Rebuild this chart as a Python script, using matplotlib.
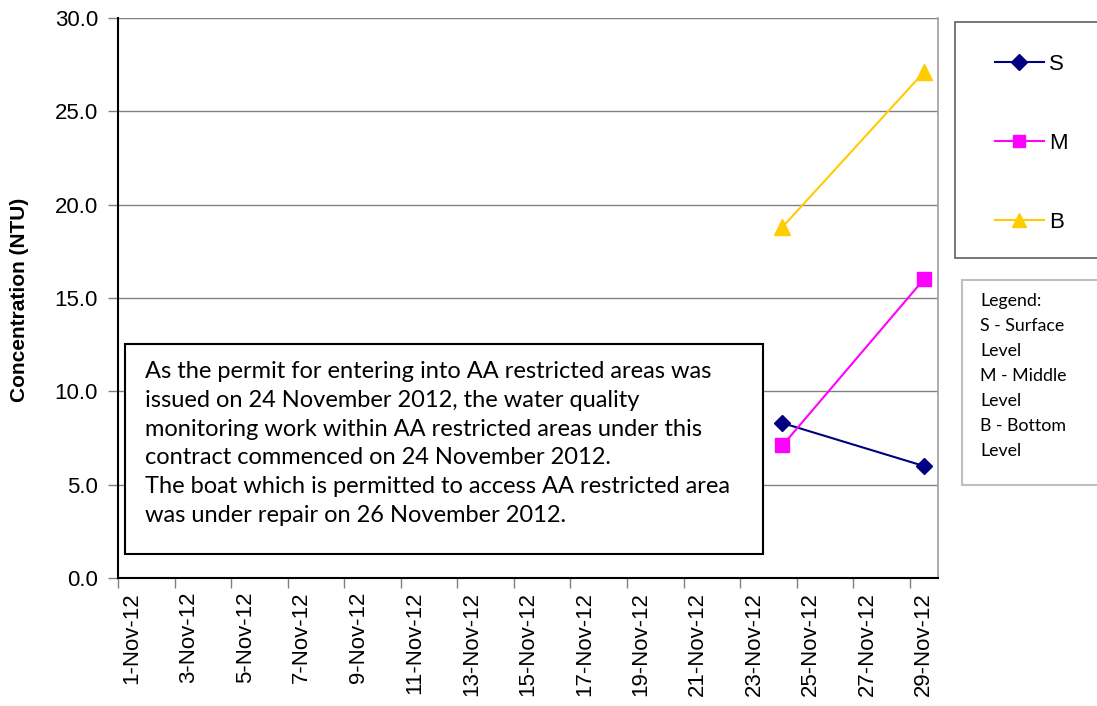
import matplotlib
matplotlib.use("Agg")
import matplotlib.pyplot as plt
from matplotlib.lines import Line2D
from matplotlib.patches import Rectangle
import pandas as pd
import numpy as np

# ---------------- data ----------------
dates = ["24-Nov-12", "29-Nov-12"]
surface = [8.3, 6.0]
middle = [7.1, 16.0]
bottom = [18.8, 27.1]
series_names = ["S", "M", "B"]
tick_days = list(range(1, 30, 2))
tick_labels = [f"{d}-Nov-12" for d in tick_days]
y_ticks = [0, 5, 10, 15, 20, 25, 30]
note_lines = [
    "As the permit for entering into AA restricted areas was",
    "issued on 24 November 2012, the water quality",
    "monitoring work within AA restricted areas under this",
    "contract commenced on 24 November 2012.",
    "The boat which is permitted to access AA restricted area",
    "was under repair on 26 November 2012.",
]
legend_note = ["Legend:", "S - Surface", "Level", "M - Middle", "Level", "B - Bottom", "Level"]

x_days = pd.to_datetime(dates, format="%d-%b-%y").day.to_numpy()

W, H = 1097, 706
fig = plt.figure(figsize=(W / 100, H / 100), dpi=100)


def fx(x):
    return x / W


def fy(y):
    return 1 - y / H


ax_l, ax_r, ax_t, ax_b = 118, 938, 18, 578
ax = fig.add_axes([fx(ax_l), fy(ax_b), fx(ax_r - ax_l), (ax_b - ax_t) / H])

arial = "Liberation Sans"
calibri = "Lato"

# lines
ax.plot(x_days, surface, color="#000080", lw=1.5, marker="D", ms=8,
        markerfacecolor="#000080", markeredgecolor="#000080", zorder=5)
ax.plot(x_days, middle, color="#FF00FF", lw=1.5, marker="s", ms=10,
        markerfacecolor="#FF00FF", markeredgecolor="#FF00FF", zorder=5)
ax.plot(x_days, bottom, color="#FFCC00", lw=1.5, marker="^", ms=11,
        markerfacecolor="#FFCC00", markeredgecolor="#FFCC00", zorder=5)

ax.set_xlim(0.5, 29.5)
ax.set_ylim(0, 30)
ax.set_yticks(y_ticks)
ax.set_yticklabels([f"{v:.1f}" for v in y_ticks], fontsize=16, family=arial)
ax.yaxis.grid(True, color="#808080", lw=1)
ax.set_axisbelow(True)

ax.set_xticks(tick_days)
ax.set_xticklabels(tick_labels, rotation=90, fontsize=16, family=arial)
ax.set_xticks(np.arange(0.5, 29.0, 2.0), minor=True)
ax.tick_params(axis="x", which="major", length=0, pad=10)
ax.tick_params(axis="x", which="minor", length=7, color="#808080", width=1, direction="out")
ax.tick_params(axis="y", length=7, color="#808080", width=1, direction="out", pad=7.5)

for s in ["left", "bottom"]:
    ax.spines[s].set_color("black")
    ax.spines[s].set_linewidth(1.5)
ax.spines["top"].set_visible(False)
ax.spines["right"].set_color("#A0A0A0")
ax.spines["right"].set_linewidth(1.2)

fig.text(fx(20), fy(300), "Concentration (NTU)", rotation=90, ha="center", va="center",
         fontsize=15, fontweight="bold", family=arial)

# note box in the plot
fig.patches.append(Rectangle((fx(125), fy(554)), fx(763 - 125), (554 - 344) / H,
                             transform=fig.transFigure, facecolor="white", edgecolor="black",
                             lw=1.5, zorder=3))
for i, line in enumerate(note_lines):
    fig.text(fx(145), fy(378 + i * 28.8), line, ha="left", va="baseline",
             fontsize=17, family=calibri, zorder=4)

# legend box
fig.patches.append(Rectangle((fx(955), fy(258)), fx(200), (258 - 22) / H,
                             transform=fig.transFigure, facecolor="white", edgecolor="#606060",
                             lw=1.2, zorder=3, clip_on=False))
handles = [
    Line2D([], [], color="#000080", lw=1.5, marker="D", ms=8),
    Line2D([], [], color="#FF00FF", lw=1.5, marker="s", ms=9),
    Line2D([], [], color="#FFCC00", lw=1.5, marker="^", ms=10),
]
leg = fig.legend(handles, series_names, loc="upper left", bbox_to_anchor=(fx(995), fy(54)),
                 frameon=False, prop={"family": arial, "size": 16}, handlelength=2.2,
                 handletextpad=0.25, labelspacing=2.6, borderpad=0, borderaxespad=0)

# legend note box
fig.patches.append(Rectangle((fx(962), fy(485)), fx(200), (485 - 280) / H,
                             transform=fig.transFigure, facecolor="white", edgecolor="#BFBFBF",
                             lw=1.5, zorder=3, clip_on=False))
for i, line in enumerate(legend_note):
    fig.text(fx(980), fy(306 + i * 25), line, ha="left", va="baseline",
             fontsize=12.8, family=calibri, zorder=4)

fig.savefig("out.png", dpi=100)
